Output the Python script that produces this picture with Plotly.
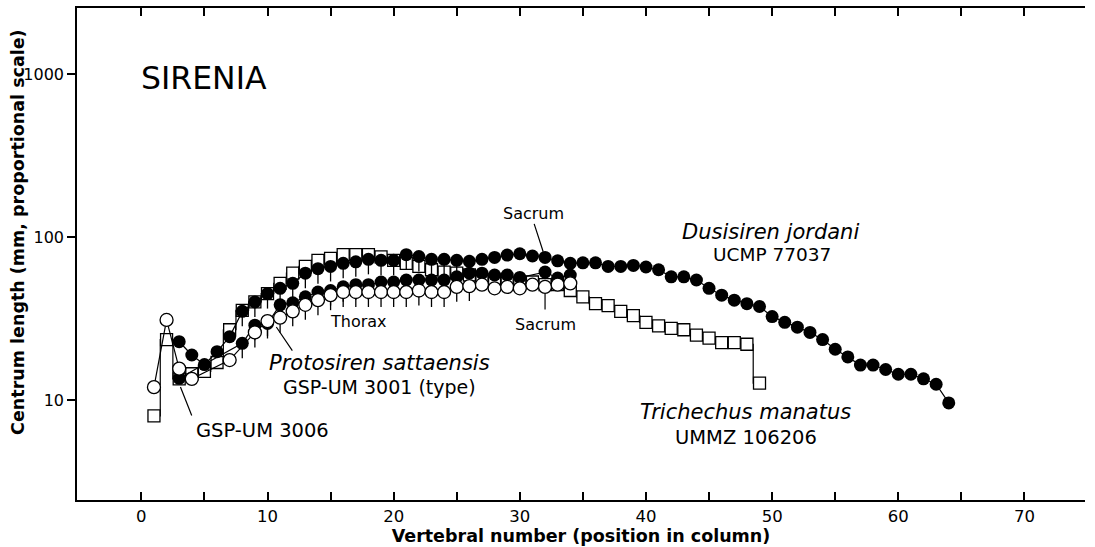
import math
import plotly.graph_objects as go

# ---------------- data ----------------
# Trichechus manatus UMMZ 106206 (open squares)
trich_x = list(range(1, 50))
trich_y = [8, 23.5, 13.5, 14.5, 15, 17, 27, 35.5, 40, 45,
           52, 60, 66, 72, 74, 78, 78, 78, 75.5, 72,
           69, 66, 63, 61, 60, 58.5, 54.5, 53, 52, 52,
           53, 51, 51, 47, 43, 39, 38, 35, 33, 30,
           28.5, 27.5, 27, 25, 24, 22.5, 22.5, 22, 12.7]

# Dusisiren jordani UCMP 77037 (filled circles, long series)
dusi_x = list(range(3, 65))
dusi_y = [22.8, 18.9, 16.5, 19.8, 24.5, 35, 40, 45, 48.5, 52,
          60, 64, 66, 69, 70.5, 73, 72, 72, 78, 76,
          73, 73, 72, 71, 73, 75, 77.5, 79, 76.5, 75,
          71.5, 69, 69.5, 69.5, 66, 66, 67, 65.5, 63, 57,
          57, 54.5, 48.5, 44, 41, 39, 37.5, 32.5, 30, 28,
          26, 23.5, 20.5, 18.4, 16.4, 16.4, 15.4, 14.4, 14.4, 13.5,
          12.5, 9.6]

# Protosiren sattaensis GSP-UM 3006 (filled circles, middle series)
p3006_x = [3, 8, 9, 10, 11, 12, 13, 14, 15, 16, 17, 18, 19, 20, 21,
           22, 23, 24, 25, 26, 27, 28, 29, 30, 32, 33, 34]
p3006_y = [13.6, 22.3, 28.8, 29.5, 38.4, 39.5, 43, 46, 47, 49.5, 51, 51, 53, 53, 54.5,
           54.5, 54.5, 54.5, 57, 60, 60, 58.5, 58.5, 56.5, 61, 56, 58.5]

# Protosiren sattaensis GSP-UM 3001 type (open circles)
p3001_x = [1, 2, 3, 4, 7, 9, 10, 11, 12, 13, 14, 15, 16, 17, 18, 19, 20, 21,
           22, 23, 24, 25, 26, 27, 28, 29, 30, 31, 32, 33, 34]
p3001_y = [12, 31, 15.6, 13.5, 17.6, 26, 30.5, 32, 35, 38.4, 41, 44, 46, 46, 46, 46, 46, 46,
           47, 46, 46, 49.5, 50, 51, 48.5, 49.5, 48.5, 51, 49.5, 51, 52]

# thoracic (rib-bearing) vertebrae marked with a stem
thorax_first, thorax_last = 8, 26

x_tickvals = list(range(0, 75, 5))
x_ticktext = [str(v) if v % 10 == 0 else "" for v in x_tickvals]
y_tickvals = [10, 100, 1000]
y_ticktext = ["10", "100", "1000"]

FONT = "DejaVu Sans, Liberation Sans, Arial, sans-serif"
STEM_FRAC = 1 - 10 ** (-15 / 163)


def stems(xs, ys):
    return [y * STEM_FRAC if thorax_first <= x <= thorax_last else 0 for x, y in zip(xs, ys)]


fig = go.Figure()

fig.add_trace(go.Scatter(
    x=trich_x, y=trich_y, mode="lines+markers", line_shape="hvh",
    line=dict(color="black", width=1.2),
    marker=dict(symbol="square", size=12, color="white", line=dict(color="black", width=1.3)),
    name="Trichechus manatus"))

fig.add_trace(go.Scatter(
    x=dusi_x, y=dusi_y, mode="lines+markers",
    line=dict(color="black", width=1.2),
    marker=dict(symbol="circle", size=13, color="black", line=dict(width=0)),
    error_y=dict(type="data", symmetric=False, array=[0] * len(dusi_y),
                 arrayminus=stems(dusi_x, dusi_y), width=0, thickness=1.3, color="black"),
    name="Dusisiren jordani"))

fig.add_trace(go.Scatter(
    x=p3006_x, y=p3006_y, mode="lines+markers",
    line=dict(color="black", width=1.2),
    marker=dict(symbol="circle", size=13, color="black", line=dict(width=0)),
    error_y=dict(type="data", symmetric=False, array=[0] * len(p3006_y),
                 arrayminus=stems(p3006_x, p3006_y), width=0, thickness=1.3, color="black"),
    name="GSP-UM 3006"))

fig.add_trace(go.Scatter(
    x=p3001_x, y=p3001_y, mode="lines+markers",
    line=dict(color="black", width=1.2),
    marker=dict(symbol="circle", size=13, color="white", line=dict(color="black", width=1.3)),
    error_y=dict(type="data", symmetric=False, array=[0] * len(p3001_y),
                 arrayminus=stems(p3001_x, p3001_y), width=0, thickness=1.3, color="black"),
    name="GSP-UM 3001"))

L = math.log10


def label(text, x, y, size, italic=False, anchor="center"):
    if italic:
        text = "<i>" + text + "</i>"
    fig.add_annotation(x=x, y=y, xref="x", yref="y", text=text, showarrow=False,
                       xanchor=anchor, yanchor="middle",
                       font=dict(family=FONT, size=size, color="black"))


def pointer(x0, y0, x1, y1, standoff=0):
    fig.add_annotation(x=x1, y=y1, ax=x0, ay=y0, xref="x", yref="y", axref="x", ayref="y",
                       text="", showarrow=True, arrowhead=0, arrowwidth=1.2,
                       arrowcolor="black", standoff=standoff)


label("SIRENIA", -0.15, 2.975, 31.5, anchor="left")
label("Sacrum", 31.1, 2.147, 16)
pointer(31.1, 2.09, 32, L(75), standoff=6)
label("Dusisiren jordani", 49.9, 2.031, 21, italic=True)
label("UCMP 77037", 50.0, 1.89, 18.5)
label("Thorax", 17.2, 1.485, 16)
label("Sacrum", 32.0, 1.466, 16)
pointer(32.0, 1.546, 32, L(49.5), standoff=7)
label("Protosiren sattaensis", 18.9, 1.227, 21, italic=True)
label("GSP-UM 3001 (type)", 18.9, 1.08, 19)
pointer(12.05, 1.294, 10.7, 1.448)
label("GSP-UM 3006", 9.6, 0.816, 19.5)
pointer(4.04, 0.896, 3.1, 1.08)
label("Trichechus manatus", 47.9, 0.926, 21, italic=True)
label("UMMZ 106206", 47.9, 0.773, 19.5)

# y-axis title (placed as in the reference, slightly above the axis centre)
fig.add_annotation(xref="paper", yref="paper", x=-0.0585, y=0.545, textangle=-90,
                   text="<b>Centrum length (mm, proportional scale)</b>", showarrow=False,
                   xanchor="center", yanchor="middle",
                   font=dict(family=FONT, size=17.5, color="black"))

yr = [0.387, 3.405]
fig.update_layout(
    width=1095, height=547,
    margin=dict(l=77, r=10, t=8, b=47, autoexpand=False),
    paper_bgcolor="white", plot_bgcolor="white",
    showlegend=False,
    font=dict(family=FONT, color="black"),
    xaxis=dict(range=[-5.1, 74.8], tickmode="array", tickvals=x_tickvals, ticktext=x_ticktext,
               ticks="inside", ticklen=8, tickwidth=1.5, tickcolor="black",
               showline=True, linecolor="black", linewidth=1.5, mirror="ticks",
               showgrid=False, zeroline=False,
               tickfont=dict(family=FONT, size=16.5),
               title=dict(text="<b>Vertebral number (position in column)</b>",
                          font=dict(family=FONT, size=17.5), standoff=3)),
    yaxis=dict(type="log", range=yr, tickmode="array", tickvals=y_tickvals, ticktext=y_ticktext,
               ticks="outside", ticklen=8, tickwidth=1.5, tickcolor="black",
               showline=True, linecolor="black", linewidth=1.5,
               showgrid=False, zeroline=False,
               tickfont=dict(family=FONT, size=16)),
    yaxis2=dict(type="log", range=yr, overlaying="y", side="right", tickmode="array",
                tickvals=y_tickvals, ticks="inside", ticklen=8, tickwidth=1.5, tickcolor="black",
                showticklabels=False, showline=True, linecolor="black", linewidth=1.5,
                showgrid=False, zeroline=False),
)

fig.write_html("out.html", config={"displayModeBar": False},
               post_script="document.body.style.margin='0';document.body.style.padding='0';")
